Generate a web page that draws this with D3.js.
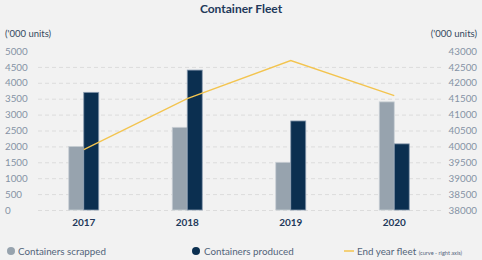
<!DOCTYPE html>
<html>
<head>
<meta charset="utf-8">
<script src="https://cdn.jsdelivr.net/npm/d3@7"></script>
<style>
  body { margin: 0; background: #f2f2f2; }
  svg { display: block; font-family: Lato, "Open Sans", sans-serif; }
</style>
</head>
<body>
<svg id="chart" width="482" height="260"></svg>
<script>
// data
var years = ["2017", "2018", "2019", "2020"];
var scrapped = [2000, 2600, 1500, 3400];
var produced = [3700, 4400, 2800, 2080];
var fleet = [39900, 41500, 42700, 41600];
var leftTicks = d3.range(0, 5001, 500);
var rightTicks = d3.range(38000, 43001, 500);

var svg = d3.select("#chart");
var navy = "#0b2f50", grey = "#97a3ae", gold = "#f3c44f", tickCol = "#8593a5";

var x = d3.scaleBand().domain(years).range([32, 446]);
var yL = d3.scaleLinear().domain([0, 5000]).range([210, 51]);
var yR = d3.scaleLinear().domain([38000, 43000]).range([210, 51]);
var bw = 15;

// title
svg.append("text").attr("x", 241).attr("y", 13).attr("text-anchor", "middle")
  .attr("font-size", 12).attr("font-weight", "bold").attr("fill", "#22395a")
  .text("Container Fleet");

svg.append("text").attr("x", 5).attr("y", 37).attr("font-size", 9.5).attr("fill", "#34495e")
  .text("('000 units)");
svg.append("text").attr("x", 477).attr("y", 37).attr("text-anchor", "end")
  .attr("font-size", 9.5).attr("fill", "#34495e").text("('000 units)");

// grid
svg.append("g").selectAll("line").data(leftTicks.slice(0, -1)).enter().append("line")
  .attr("x1", 38).attr("x2", 442)
  .attr("y1", function(d) { return yL(d) + 0.5; })
  .attr("y2", function(d) { return yL(d) + 0.5; })
  .attr("stroke", "#dcdcdc").attr("stroke-dasharray", "4,3");

// left axis
var axL = d3.axisLeft(yL).tickValues(leftTicks).tickSize(0).tickFormat(d3.format("d"));
var gL = svg.append("g").attr("transform", "translate(5,0)").call(axL);
gL.select(".domain").remove();
gL.selectAll("text").attr("text-anchor", "start").attr("x", 0)
  .attr("font-size", 9.8).attr("fill", tickCol).attr("font-family", "Lato, sans-serif");

// right axis
var axR = d3.axisRight(yR).tickValues(rightTicks).tickSize(0).tickFormat(d3.format("d"));
var gR = svg.append("g").attr("transform", "translate(477,0)").call(axR);
gR.select(".domain").remove();
gR.selectAll("text").attr("text-anchor", "end").attr("x", 0)
  .attr("font-size", 9.8).attr("fill", tickCol).attr("font-family", "Lato, sans-serif");

// bars
var mid = function(d) { return x(d) + x.bandwidth() / 2; };
svg.append("g").selectAll("rect").data(years).enter().append("rect")
  .attr("x", function(d) { return mid(d) - bw; })
  .attr("y", function(d, i) { return yL(scrapped[i]); })
  .attr("width", bw)
  .attr("height", function(d, i) { return yL(0) - yL(scrapped[i]); })
  .attr("fill", grey).attr("stroke", "#c9cfd4").attr("stroke-width", 0.8);
svg.append("g").selectAll("rect").data(years).enter().append("rect")
  .attr("x", function(d) { return mid(d); })
  .attr("y", function(d, i) { return yL(produced[i]); })
  .attr("width", bw)
  .attr("height", function(d, i) { return yL(0) - yL(produced[i]); })
  .attr("fill", navy).attr("stroke", "#8a9cb0").attr("stroke-width", 0.8);

// fleet line
var line = d3.line()
  .x(function(d, i) { return mid(years[i]); })
  .y(function(d) { return yR(d); });
svg.append("path").datum(fleet).attr("d", line)
  .attr("fill", "none").attr("stroke", gold).attr("stroke-width", 1.3);

// x labels
var axX = d3.axisBottom(x).tickSize(0);
var gX = svg.append("g").attr("transform", "translate(0,214)").call(axX);
gX.select(".domain").remove();
gX.selectAll("text").attr("font-size", 10).attr("font-weight", "bold")
  .attr("fill", "#22395a").attr("font-family", "Lato, sans-serif").attr("dy", "0.85em");

// legend
var lg = svg.append("g").attr("font-size", 9.8).attr("fill", "#52647a");
lg.append("circle").attr("cx", 11).attr("cy", 251).attr("r", 4).attr("fill", grey);
lg.append("text").attr("x", 18).attr("y", 254.5).text("Containers scrapped");
lg.append("circle").attr("cx", 196).attr("cy", 251).attr("r", 4).attr("fill", navy);
lg.append("text").attr("x", 204).attr("y", 254.5).text("Containers produced");
lg.append("line").attr("x1", 344).attr("x2", 354).attr("y1", 251).attr("y2", 251)
  .attr("stroke", gold).attr("stroke-width", 1.5);
var t = lg.append("text").attr("x", 357).attr("y", 254.5);
t.append("tspan").text("End year fleet ");
t.append("tspan").attr("font-size", 5.6).text("(curve - right axis)");
</script>
</body>
</html>
